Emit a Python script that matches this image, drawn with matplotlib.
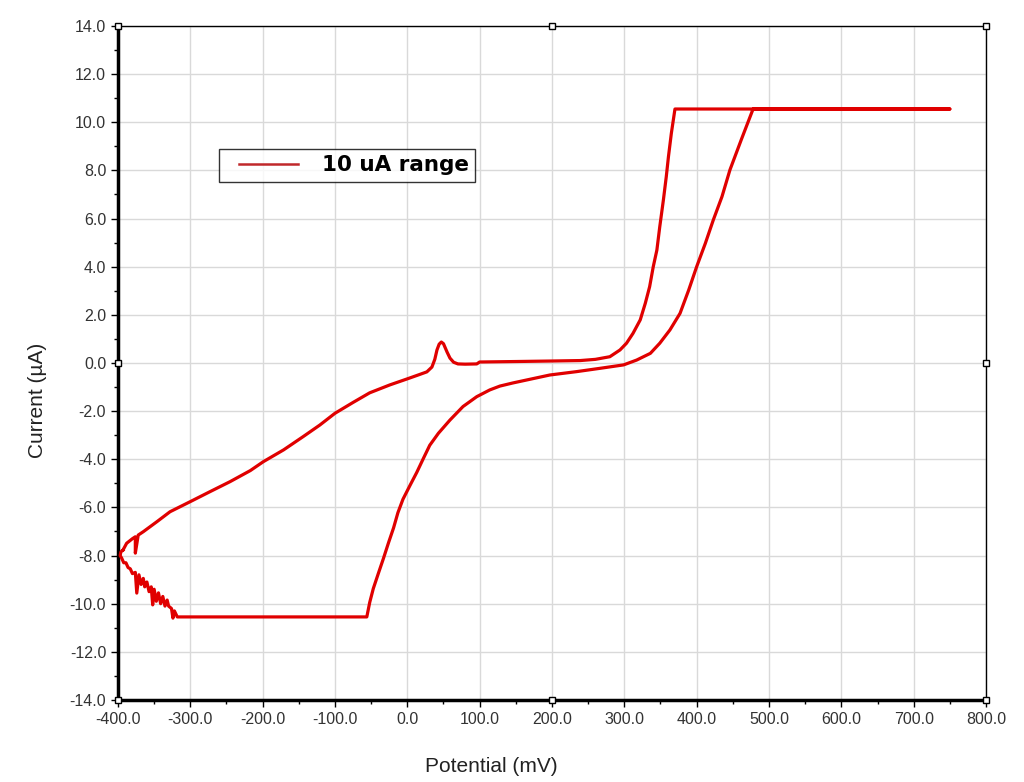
import numpy as np
import matplotlib
matplotlib.use('Agg')
import matplotlib.pyplot as plt
from matplotlib.lines import Line2D
from matplotlib.legend_handler import HandlerLine2D
from matplotlib.ticker import MultipleLocator, FormatStrFormatter

# cyclic voltammogram
# forward sweep (upper branch)
fwd_E = [-393, -388, -380, -376, -376, -372, -365, -346, -328, -300, -273, -245,
         -217, -199, -171, -144, -121, -100, -75, -52, -24, 0, 15, 27, 34, 38, 41,
         44, 47, 50, 52, 55, 59, 64, 70, 80, 96, 100, 150, 197, 239, 260, 280, 294,
         303, 312, 322, 329, 335, 340, 345, 349, 354, 358, 361, 365, 370, 750]
fwd_I = [-7.77, -7.49, -7.3, -7.22, -7.9, -7.15, -7.01, -6.59, -6.18, -5.76, -5.35,
         -4.93, -4.47, -4.1, -3.61, -3.06, -2.58, -2.09, -1.64, -1.24, -0.91, -0.66,
         -0.5, -0.37, -0.17, 0.15, 0.54, 0.78, 0.87, 0.8, 0.66, 0.45, 0.2, 0.03,
         -0.04, -0.05, -0.04, 0.04, 0.06, 0.08, 0.1, 0.15, 0.26, 0.54, 0.82, 1.23,
         1.79, 2.48, 3.17, 4.0, 4.69, 5.66, 6.77, 7.74, 8.57, 9.54, 10.55, 10.55]

# reverse sweep (lower branch)
rev_E = [750, 478, 462, 446, 435, 423, 412, 400, 389, 377, 363, 349, 336, 317,
         299, 267, 234, 197, 146, 128, 114, 96, 77, 59, 43, 31, 22, 13, 4, -6, -13,
         -19, -26, -33, -40, -47, -52, -56, -318]
rev_I = [10.55, 10.55, 9.3, 8.02, 6.91, 5.94, 4.97, 4.0, 3.03, 2.06, 1.37, 0.82,
         0.4, 0.12, -0.08, -0.22, -0.36, -0.5, -0.83, -0.96, -1.12, -1.4, -1.81,
         -2.37, -2.92, -3.42, -3.98, -4.55, -5.07, -5.66, -6.22, -6.85, -7.47, -8.12,
         -8.74, -9.37, -9.95, -10.55, -10.55]

# noisy tail back to the start
tail_E = [-322, -324, -326, -330, -332, -335, -338, -341, -344, -347, -350, -352,
          -354, -357, -360, -363, -365, -368, -371, -374, -376, -380, -383, -386,
          -389, -392, -395, -397, -396, -393]
tail_I = [-10.3, -10.6, -10.2, -10.1, -9.85, -10.1, -9.7, -10.0, -9.55, -9.9, -9.4,
          -10.05, -9.3, -9.5, -9.1, -9.3, -8.95, -9.2, -8.8, -9.56, -8.7, -8.75, -8.55,
          -8.5, -8.3, -8.3, -8.1, -8.0, -7.85, -7.77]

E = fwd_E + rev_E + tail_E
I = fwd_I + rev_I + tail_I

red = '#e00000'
tick_font = ['Liberation Sans Narrow', 'Liberation Sans', 'DejaVu Sans']

fig = plt.figure(figsize=(10.24, 7.82), dpi=100)
ax = fig.add_axes([0.1152, 0.1049, 0.8477, 0.8619])

ax.plot(E, I, color=red, lw=2.3, label='10 uA range', zorder=3)

ax.set_xlim(-400, 800)
ax.set_ylim(-14, 14)
ax.xaxis.set_major_locator(MultipleLocator(100))
ax.xaxis.set_minor_locator(MultipleLocator(50))
ax.yaxis.set_major_locator(MultipleLocator(2))
ax.yaxis.set_minor_locator(MultipleLocator(1))
ax.xaxis.set_major_formatter(FormatStrFormatter('%.1f'))
ax.yaxis.set_major_formatter(FormatStrFormatter('%.1f'))
ax.grid(True, which='major', color='#d9d9d9', lw=1)
ax.set_axisbelow(True)

ax.tick_params(which='major', length=5, width=1, direction='out', colors='black',
               labelsize=11.5, labelcolor='#333333')
ax.tick_params(which='minor', length=3, width=1, direction='out')
ax.tick_params(top=False, right=False)
for lab in ax.get_xticklabels() + ax.get_yticklabels():
    lab.set_family(tick_font)

for s in ['left', 'bottom']:
    ax.spines[s].set_linewidth(2.5)
for s in ['top', 'right']:
    ax.spines[s].set_linewidth(1)
    ax.spines[s].set_linestyle((0, (1, 1)))

# selection handles on the frame
hx = [0, 0.5, 1, 0, 1, 0, 0.5, 1]
hy = [1, 1, 1, 0.5, 0.5, 0, 0, 0]
ax.plot(hx, hy, ls='none', marker='s', ms=5, mfc='white', mec='black', mew=1,
        transform=ax.transAxes, clip_on=False, zorder=5)

ax.set_xlabel('Potential (mV)', fontsize=15, family=tick_font, color='#222222')
ax.set_ylabel('Current (µA)', fontsize=15, family=tick_font, color='#222222')
ax.xaxis.set_label_coords(0.43, -0.085)
ax.yaxis.set_label_coords(-0.082, 0.445)

leg = ax.legend(loc='upper left', bbox_to_anchor=(0.1164, 0.8175), borderaxespad=0,
                frameon=True, fancybox=False, handlelength=3.37, handletextpad=1.1,
                borderpad=0.3, handler_map={Line2D: HandlerLine2D(xpad=0.63)},
                prop={'family': 'DejaVu Sans', 'weight': 'bold', 'size': 15.5})
leg.get_frame().set_edgecolor('black')
leg.get_frame().set_linewidth(1)
leg.get_lines()[0].set_color('#c0282b')
leg.get_lines()[0].set_linewidth(1.8)

plt.savefig('out.png', dpi=100)
